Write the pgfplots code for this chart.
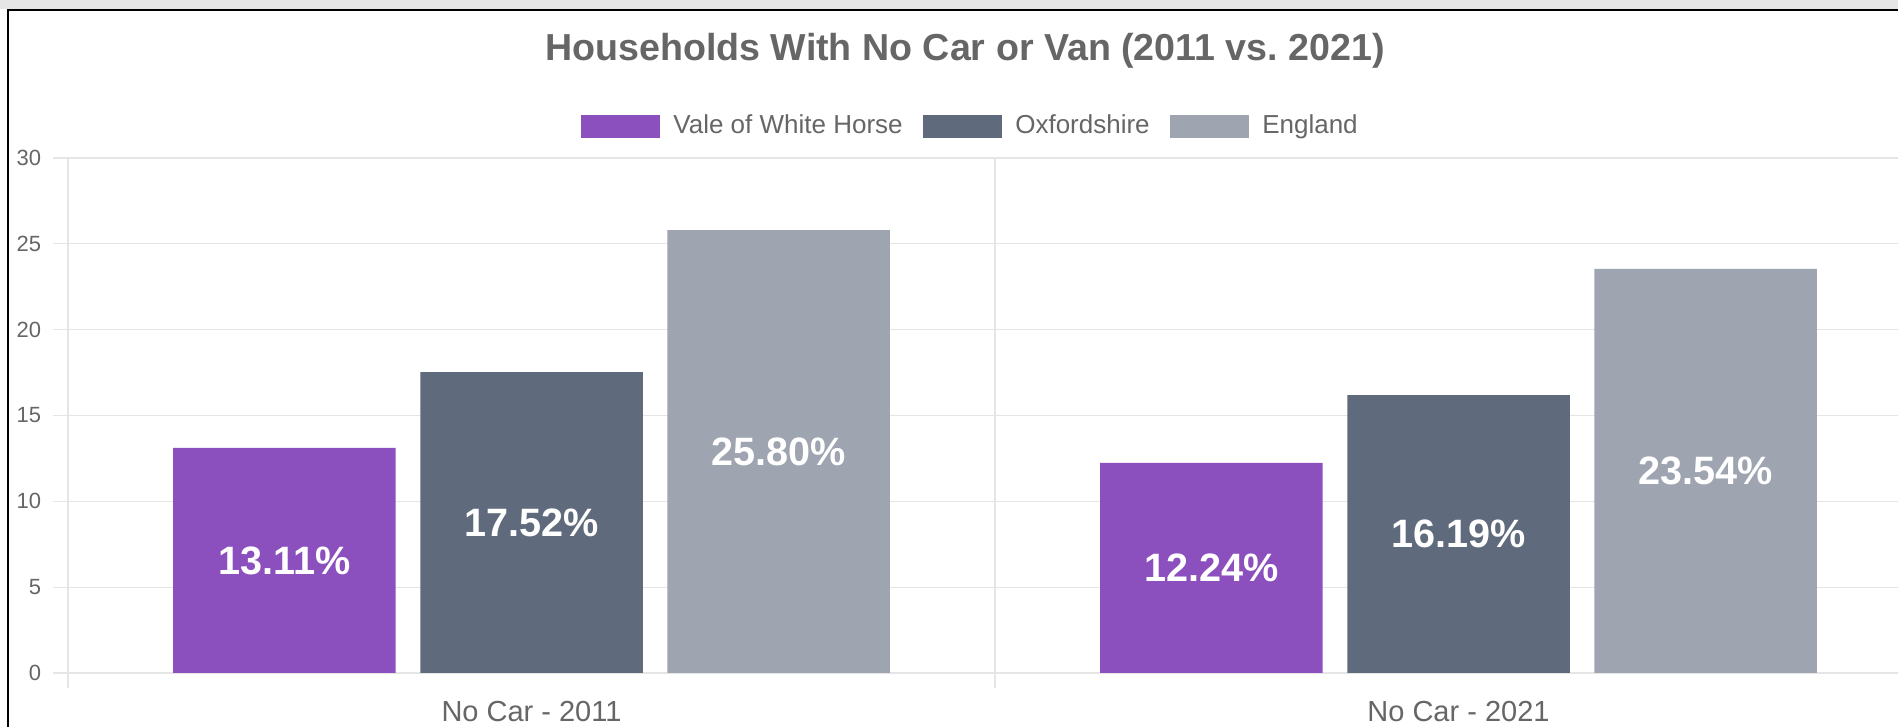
\documentclass[border=0pt]{standalone}
\usepackage{fontspec}
\setmainfont{Liberation Sans}
\usepackage{pgfplots}
\pgfplotsset{compat=1.18}

\definecolor{vale}{HTML}{8C4FBE}
\definecolor{oxon}{HTML}{5F6B7D}
\definecolor{eng}{HTML}{9EA4B0}
\definecolor{txt}{HTML}{666666}
\definecolor{gridc}{HTML}{E5E5E5}
\definecolor{strip}{HTML}{E6E6E6}

\pgfplotsset{
    lgbox/.style={legend image code/.code={\fill[##1] (0pt,-5.75pt) rectangle (39.5pt,5.75pt);}},
}

\begin{document}
\begin{tikzpicture}
% page is 1898x727 px at 0.5pt per px, origin at the lower left of the axis box
\path[use as bounding box] (-34pt,-27pt) rectangle (915pt,336.5pt);
\fill[white] (-34pt,-27pt) rectangle (915pt,336.5pt);
\begin{axis}[
    scale only axis,
    width=927pt, height=257.5pt,
    xmin=-0.5, xmax=1.5,
    ymin=0, ymax=30,
    ybar=12.35pt,
    bar width=111.25pt,
    axis line style={draw=none},
    tick pos=left,
    xtick={-0.5,0.5,1.5},
    xticklabels={},
    xmajorgrids,
    extra x ticks={0,1},
    extra x tick labels={No Car - 2011, No Car - 2021},
    extra x tick style={grid=none, major tick length=0pt},
    ytick={0,5,...,30},
    ymajorgrids,
    grid style={gridc, line width=0.6pt},
    tick style={gridc, line width=0.6pt},
    tick align=outside,
    major tick length=7.75pt,
    xticklabel style={font=\fontsize{14.5}{17}\selectfont, text=txt, anchor=base, yshift=-24.25pt},
    yticklabel style={font=\fontsize{11}{13}\selectfont, text=txt, anchor=east, inner sep=0pt, xshift=-5.5pt},
    /pgf/number format/assume math mode=true,
    nodes near coords={\pgfmathprintnumber[fixed,fixed zerofill,precision=2]{\pgfplotspointmeta}\%},
    visualization depends on={rawy \as \rawy},
    every node near coord/.append style={font=\bfseries\fontsize{19.8}{23}\selectfont, text=white, anchor=center, yshift=-4.291667pt*\rawy},
    legend columns=3,
    legend style={at={(axis description cs:0.2767,1.0621)}, anchor=west, draw=none, fill=none,
        inner sep=0pt, font=\fontsize{13}{15}\selectfont, text=txt,
        /tikz/every odd column/.append style={column sep=4.5pt},
        /tikz/every even column/.append style={column sep=8.3pt}},
]
\addplot[fill=vale, draw=none, lgbox] coordinates {(0,13.11) (1,12.24)};
\addlegendentry{Vale of White Horse}
\addplot[fill=oxon, draw=none, lgbox] coordinates {(0,17.52) (1,16.19)};
\addlegendentry{Oxfordshire}
\addplot[fill=eng, draw=none, lgbox] coordinates {(0,25.80) (1,23.54)};
\addlegendentry{England}
\end{axis}
\node[font=\bfseries\fontsize{18.8}{22}\selectfont, text=txt] at (448.5pt,311pt) {Households With No Car or Van (2011 vs.\ 2021)};
\fill[strip] (-34pt,331.75pt) rectangle (915pt,336.5pt);
\draw[black, line width=1pt] (-29.75pt,-27pt) -- (-29.75pt,331.25pt) -- (915pt,331.25pt);
\end{tikzpicture}
\end{document}
